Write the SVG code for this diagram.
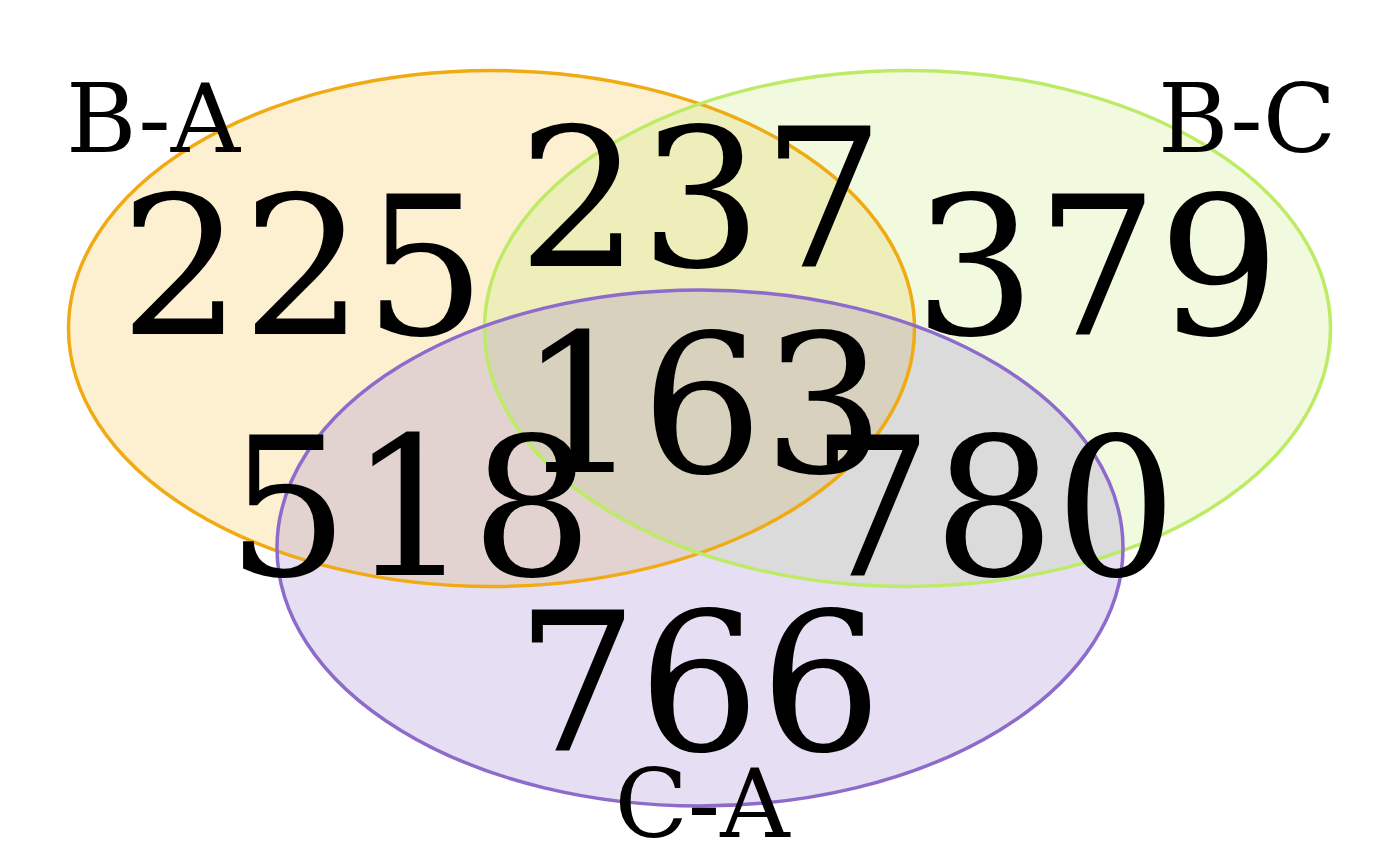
<svg xmlns="http://www.w3.org/2000/svg" width="1400" height="866" viewBox="0 0 1400 866">
<style>
.fill{stroke:none}
.edge{fill:none;stroke-width:3.5}
.num{font-family:"DejaVu Serif",serif;font-size:192px;text-anchor:middle;fill:#000}
.lbl{font-family:"DejaVu Serif",serif;font-size:96px;text-anchor:middle;fill:#000}
</style>
<defs>
<ellipse id="eBA" cx="491.5" cy="328.5" rx="423" ry="258"/>
<ellipse id="eBC" cx="907.5" cy="328.5" rx="423" ry="258"/>
<ellipse id="eCA" cx="700" cy="548" rx="423" ry="258"/>
</defs>
<rect width="1400" height="866" fill="#fff"/>
<g id="set-BA"><use href="#eBA" class="fill" fill="#F0AB00" fill-opacity="0.18"/></g>
<g id="set-BC"><use href="#eBC" class="fill" fill="#B8E860" fill-opacity="0.2"/></g>
<g id="set-CA"><use href="#eCA" class="fill" fill="#8B6ECC" fill-opacity="0.22"/></g>
<g id="outlines">
<use href="#eBA" class="edge" stroke="#F0AB14"/>
<use href="#eBC" class="edge" stroke="#BDEB66"/>
<use href="#eCA" class="edge" stroke="#8C6BCB"/>
</g>
<g id="labels">
<text class="lbl" x="153" y="152">B-A</text>
<text class="lbl" x="1247" y="152">B-C</text>
<text class="lbl" x="702" y="837">C-A</text>
</g>
<g id="counts">
<text class="num" x="303" y="334">225</text>
<text class="num" x="701" y="266">237</text>
<text class="num" x="1097" y="334">379</text>
<text class="num" x="702" y="472">163</text>
<text class="num" x="410" y="575">518</text>
<text class="num" x="994" y="575">780</text>
<text class="num" x="699" y="750">766</text>
</g>
</svg>
